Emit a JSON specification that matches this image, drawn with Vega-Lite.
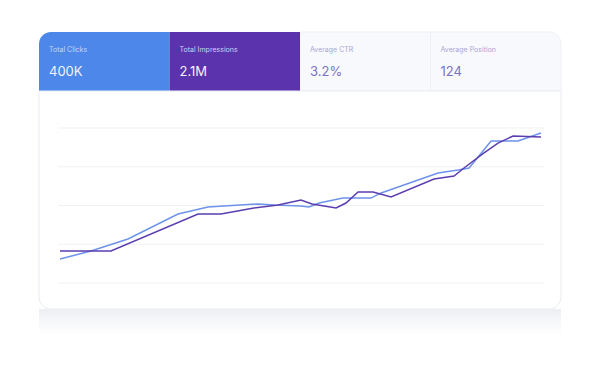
{
  "$schema": "https://vega.github.io/schema/vega-lite/v6.json",
  "padding": {"left": 38, "top": 31, "right": 40, "bottom": 46},
  "background": "white",
  "spacing": 0,
  "bounds": "flush",
  "config": {"view": {"stroke": null}, "font": "Inter"},
  "datasets": {
    "tiles": [
      {"tile": "clicks", "label": "Total Clicks", "value": "400K", "kind": "dark"},
      {"tile": "impressions", "label": "Total Impressions", "value": "2.1M", "kind": "dark"},
      {"tile": "ctr", "label": "Average CTR", "value": "3.2%", "kind": "light"},
      {"tile": "position", "label": "Average Position", "value": "124", "kind": "light"}
    ],
    "series": [
      {"series": "Impressions", "day": 0, "v": 15.5},
      {"series": "Impressions", "day": 1.93, "v": 20.6},
      {"series": "Impressions", "day": 4.24, "v": 28.4},
      {"series": "Impressions", "day": 7.36, "v": 44.5},
      {"series": "Impressions", "day": 9.23, "v": 49.0},
      {"series": "Impressions", "day": 12.35, "v": 51.0},
      {"series": "Impressions", "day": 13.35, "v": 50.3},
      {"series": "Impressions", "day": 15.03, "v": 49.7},
      {"series": "Impressions", "day": 15.53, "v": 49.0},
      {"series": "Impressions", "day": 16.16, "v": 51.6},
      {"series": "Impressions", "day": 17.65, "v": 54.8},
      {"series": "Impressions", "day": 19.4, "v": 54.8},
      {"series": "Impressions", "day": 20.03, "v": 58.1},
      {"series": "Impressions", "day": 23.58, "v": 71.0},
      {"series": "Impressions", "day": 24.83, "v": 72.9},
      {"series": "Impressions", "day": 25.52, "v": 74.2},
      {"series": "Impressions", "day": 26.89, "v": 91.6},
      {"series": "Impressions", "day": 28.57, "v": 91.6},
      {"series": "Impressions", "day": 30, "v": 96.8},
      {"series": "Clicks", "day": 0, "v": 20.6},
      {"series": "Clicks", "day": 3.18, "v": 20.6},
      {"series": "Clicks", "day": 8.61, "v": 44.5},
      {"series": "Clicks", "day": 10.04, "v": 44.5},
      {"series": "Clicks", "day": 12.1, "v": 48.4},
      {"series": "Clicks", "day": 13.6, "v": 50.3},
      {"series": "Clicks", "day": 15.03, "v": 53.5},
      {"series": "Clicks", "day": 15.72, "v": 51.0},
      {"series": "Clicks", "day": 17.22, "v": 48.4},
      {"series": "Clicks", "day": 17.84, "v": 51.6},
      {"series": "Clicks", "day": 18.59, "v": 58.7},
      {"series": "Clicks", "day": 19.53, "v": 58.7},
      {"series": "Clicks", "day": 20.65, "v": 55.5},
      {"series": "Clicks", "day": 23.33, "v": 67.1},
      {"series": "Clicks", "day": 24.58, "v": 69.0},
      {"series": "Clicks", "day": 25.2, "v": 74.2},
      {"series": "Clicks", "day": 26.45, "v": 83.9},
      {"series": "Clicks", "day": 27.32, "v": 90.3},
      {"series": "Clicks", "day": 28.26, "v": 94.8},
      {"series": "Clicks", "day": 30, "v": 94.2}
    ],
    "grid": [{"g": 0}, {"g": 25}, {"g": 50}, {"g": 75}, {"g": 100}],
    "card": [{"x0": -1.31, "x1": 31.25, "y0": -16.8, "y1": 123.9}]
  },
  "vconcat": [
    {
      "width": 522,
      "height": 59,
      "data": {"name": "tiles"},
      "encoding": {
        "x": {"field": "tile", "type": "nominal", "sort": null,
              "scale": {"domain": ["clicks", "impressions", "ctr", "position"], "paddingInner": 0, "paddingOuter": 0},
              "axis": null}
      },
      "layer": [
        {
          "transform": [{"filter": "datum.tile === 'ctr'"}],
          "mark": {"type": "rect", "fill": "#f8f9fd", "stroke": "#eef0f5", "strokeWidth": 1}
        },
        {
          "transform": [{"filter": "datum.tile === 'position'"}],
          "mark": {"type": "rect", "fill": "#f8f9fd", "stroke": "#eef0f5", "strokeWidth": 1, "cornerRadiusTopRight": 12}
        },
        {
          "transform": [{"filter": "datum.tile === 'clicks'"}],
          "mark": {"type": "rect", "fill": "#4d87ea", "cornerRadiusTopLeft": 12}
        },
        {
          "transform": [{"filter": "datum.tile === 'impressions'"}],
          "mark": {"type": "rect", "fill": "#5a33ad"}
        },
        {
          "mark": {"type": "text", "align": "left", "baseline": "middle", "dx": 10, "dy": -12, "fontSize": 7},
          "encoding": {
            "x": {"field": "tile", "type": "nominal", "bandPosition": 0},
            "text": {"field": "label"},
            "color": {"field": "kind", "type": "nominal", "scale": {"domain": ["dark", "light"], "range": ["#c9d4f6", "#a9a6d2"]}, "legend": null}
          }
        },
        {
          "mark": {"type": "text", "align": "left", "baseline": "middle", "dx": 10, "dy": 10, "fontSize": 13, "fontWeight": 400},
          "encoding": {
            "x": {"field": "tile", "type": "nominal", "bandPosition": 0},
            "text": {"field": "value"},
            "color": {"field": "kind", "type": "nominal", "scale": {"domain": ["dark", "light"], "range": ["#f4f2fc", "#7c72c4"]}, "legend": null}
          }
        }
      ],
      "resolve": {"scale": {"color": "independent"}}
    },
    {
      "width": 522,
      "height": 218,
      "layer": [
        {
          "data": {"name": "card"},
          "mark": {"type": "rect", "fill": "white", "stroke": "#eaecf1", "strokeWidth": 1, "cornerRadiusBottomLeft": 12, "cornerRadiusBottomRight": 12},
          "encoding": {
            "x": {"field": "x0", "type": "quantitative", "scale": {"domain": [-1.31, 31.25], "nice": false, "zero": false}, "axis": null},
            "x2": {"field": "x1"},
            "y": {"field": "y0", "type": "quantitative", "scale": {"domain": [-16.8, 123.9], "nice": false, "zero": false}, "axis": null},
            "y2": {"field": "y1"}
          }
        },
        {
          "data": {"name": "grid"},
          "mark": {"type": "rule", "color": "#f0f1f5", "strokeWidth": 1},
          "encoding": {
            "x": {"datum": -0.12, "type": "quantitative", "axis": null},
            "x2": {"datum": 30.2},
            "y": {"field": "g", "type": "quantitative", "axis": null}
          }
        },
        {
          "data": {"name": "series"},
          "mark": {"type": "line", "strokeWidth": 1.5, "interpolate": "linear"},
          "encoding": {
            "x": {"field": "day", "type": "quantitative", "axis": null},
            "y": {"field": "v", "type": "quantitative", "axis": null},
            "color": {"field": "series", "type": "nominal", "sort": ["Impressions", "Clicks"],
                      "scale": {"domain": ["Impressions", "Clicks"], "range": ["#6e93ea", "#5b3db0"]}, "legend": null},
            "order": {"field": "day", "type": "quantitative"}
          }
        }
      ]
    },
    {
      "width": 522,
      "height": 26,
      "data": {"values": [{"a": 0, "b": 1}]},
      "mark": {"type": "rect",
               "color": {"gradient": "linear", "x1": 0, "y1": 0, "x2": 0, "y2": 1,
                         "stops": [{"offset": 0, "color": "#eceef2"}, {"offset": 0.4, "color": "#f5f6f9"}, {"offset": 1, "color": "#ffffff"}]}},
      "encoding": {
        "x": {"field": "a", "type": "quantitative", "scale": {"domain": [0, 1]}, "axis": null},
        "x2": {"field": "b"},
        "y": {"field": "a", "type": "quantitative", "scale": {"domain": [0, 1]}, "axis": null},
        "y2": {"field": "b"}
      }
    }
  ]
}
